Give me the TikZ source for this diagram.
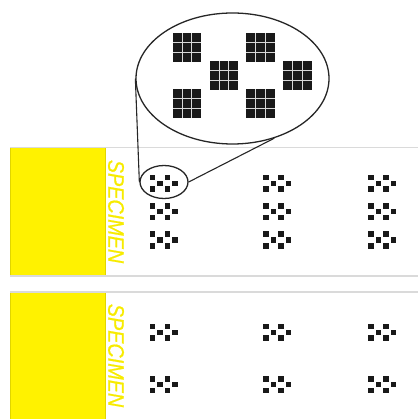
\documentclass[tikz,border=0pt]{standalone}
\usepackage{fontspec}
\setsansfont{Liberation Sans}
\usetikzlibrary{shapes.geometric,positioning}
\definecolor{specyellow}{RGB}{255,242,0}
\definecolor{rulegray}{RGB}{218,218,218}

\begin{document}
\begin{tikzpicture}[x=1pt,y=-1pt,
        rule/.style={rulegray, line width=1.4pt},
        swatch/.style={fill=specyellow, draw=specyellow!88!black, line width=0.5pt},
        speclabel/.style={text=specyellow!97!black, font=\sffamily\itshape\fontsize{22.5}{22.5}\selectfont\addfontfeature{FakeBold=0.8}, inner sep=0pt, rotate=-90},
        lens/.style={ellipse, draw=black!85, line width=1.3pt, inner sep=0pt},
        dotgroup/.pic={
            \foreach \c/\r in {0/0,2/0,1/1,3/1,0/2,2/2}
                \fill[black!90] ({(\c-1.5)*7.55-2.75},{(\r-1)*5.85-2.75}) rectangle ++(5.5,5.5);
        },
        bigblock/.pic={
            \fill[black!90] (-14.25,-14.25) rectangle (14.25,14.25);
            \foreach \g in {-4.75,4.75} {
                \draw[white!85!black, line width=0.9pt] (\g,-14.25) -- (\g,14.25);
                \draw[white!85!black, line width=0.9pt] (-14.25,\g) -- (14.25,\g);
            }
        }]
            \useasboundingbox (0,0) rectangle (418,419);

            % upper sheet
            \fill[swatch] (10,147.5) rectangle (105.5,276);
            \draw[rule] (10,147.5) -- (418,147.5);
            \draw[rule] (10,276) -- (418,276);
            \node[speclabel] (label1) at (116,211.5) {\scalebox{0.88}[1]{SPECIMEN}};
            \foreach \px in {163.8,277.2,382.2}
                \foreach \py in {183.3,211.7,240}
                    \pic at (\px,\py) {dotgroup};

            % lower sheet
            \fill[swatch] (10,292) rectangle (105.5,421);
            \draw[rule] (10,292) -- (418,292);
            \node[speclabel] (label2) at (116,355.5) {\scalebox{0.88}[1]{SPECIMEN}};
            \foreach \px in {163.8,277.2,382.2}
                \foreach \py in {332.3,384.7}
                    \pic at (\px,\py) {dotgroup};

            % magnified view
            \node[lens, minimum width=48pt, minimum height=33pt] (spot) at (164,182) {};
            \node[lens, minimum width=193pt, minimum height=131pt] (zoom) at (232.5,78.5) {};
            \foreach \c/\r in {0/0,2/0,1/1,3/1,0/2,2/2}
                \pic at ({242.2+(\c-1.5)*36.8},{75.5+(\r-1)*28}) {bigblock};
            \draw[black!85, line width=1.1pt] (zoom.west) -- (spot.west);
            \draw[black!85, line width=1.1pt] (zoom.-55) -- (spot.east);
\end{tikzpicture}
\end{document}
